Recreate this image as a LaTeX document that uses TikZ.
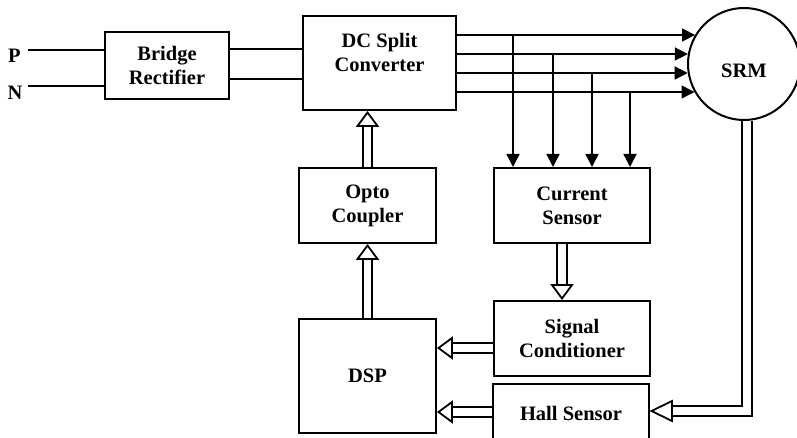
\documentclass[tikz,border=0pt]{standalone}
\usepackage{fontspec}
\setmainfont{Liberation Serif}
\usetikzlibrary{arrows.meta, calc}

\tikzset{
    block/.style={draw, line width=2pt, align=center, inner sep=0pt},
    wire/.style={line width=1.7pt},
    bus/.style={line width=1.4pt},
    tip/.style={-{Triangle[width=13pt, length=13pt]}},
    fatshaft/.style={double, line width=1.8pt, double distance=7.5pt},
    fathead/.style={fill=white, line width=1.8pt, line join=miter},
}
% open head at #3, pointing away from #2, length #1
\newcommand{\fathead}[3][15pt]{%
    \filldraw[fathead] ($(#3)!1.5pt!(#2)$) -- ($(#3)!#1!(#2)!10pt!90:(#2)$)
        -- ($(#3)!#1!(#2)!10pt!-90:(#2)$) -- cycle;}
% hollow (double) arrow from #1 to #2
\newcommand{\fatarrow}[2]{%
    \draw[fatshaft] (#1) -- ($(#2)!9pt!(#1)$);
    \fathead{#1}{#2}}

\begin{document}
\begin{tikzpicture}[x=1pt, y=-1pt,
        every node/.style={font=\fontsize{20.5}{24}\selectfont\bfseries}]
        \useasboundingbox (0,0) rectangle (797,438);
        \pgfmathsetmacro{\srmX}{744}
        \pgfmathsetmacro{\srmY}{64}
        \pgfmathsetmacro{\srmR}{56}

        \node[block, minimum width=124, minimum height=67] (bridge) at (167,65.5) {Bridge\\Rectifier};
        \node[block, minimum width=153, minimum height=94,
            label={[align=center, yshift=10.5pt]center:{DC Split\\Converter}}] (conv) at (379.5,63) {};
        \node[draw, circle, line width=2pt, minimum size=2*\srmR,
            label={[yshift=-6.5pt]center:SRM}] (srm) at (\srmX,\srmY) {};
        \node[block, minimum width=137, minimum height=75] (opto) at (367.5,205.5) {Opto\\Coupler};
        \node[block, minimum width=156, minimum height=75] (current) at (572,205.5) {Current\\Sensor};
        \node[block, minimum width=156, minimum height=75] (signal) at (572,338.5) {Signal\\Conditioner};
        \node[block, minimum width=156, minimum height=58] (hall) at (571,413) {Hall Sensor};
        \node[block, minimum width=137, minimum height=114] (dsp) at (367.5,376) {DSP};

        % supply
        \node (plabel) at (14.5,56) {P};
        \node (nlabel) at (15,93) {N};
        \coordinate (pin) at (28,50);
        \coordinate (nin) at (28,86);
        \draw[wire] (pin) -- (pin -| bridge.west);
        \draw[wire] (nin) -- (nin -| bridge.west);
        \draw[wire] (bridge.east |- 0,49) -- (conv.west |- 0,49);
        \draw[wire] (bridge.east |- 0,79) -- (conv.west |- 0,79);

        % phase lines and current taps
        \foreach \y/\xt in {35/513, 54/553, 73/592, 92/630} {
            \pgfmathsetmacro{\xend}{\srmX - sqrt(\srmR*\srmR - (\y-\srmY)*(\y-\srmY)) - 1}
            \draw[bus, tip] (conv.east |- 0,\y) -- (\xend,\y);
            \draw[bus, tip] (\xt,\y) -- (\xt,\y |- current.north);
        }

        \coordinate (csout) at ([xshift=-10pt]current.south);
        \coordinate (scout) at ([yshift=-9.5pt]signal.west);
        \coordinate (hsout) at (hall.west |- 0,412);
        \coordinate (fb) at (hall.east |- 0,411);
        \fatarrow{opto.north}{opto.north |- conv.south}
        \fatarrow{dsp.north}{opto.south}
        \fatarrow{csout}{csout |- signal.north}
        \fatarrow{scout}{dsp.east |- scout}
        \fatarrow{hsout}{dsp.east |- hsout}

        % position feedback
        \draw[fatshaft] ([xshift=3pt]srm.south) |- ($(fb)+(12,0)$);
        \fathead[22pt]{$(fb)+(30,0)$}{fb}
\end{tikzpicture}
\end{document}
